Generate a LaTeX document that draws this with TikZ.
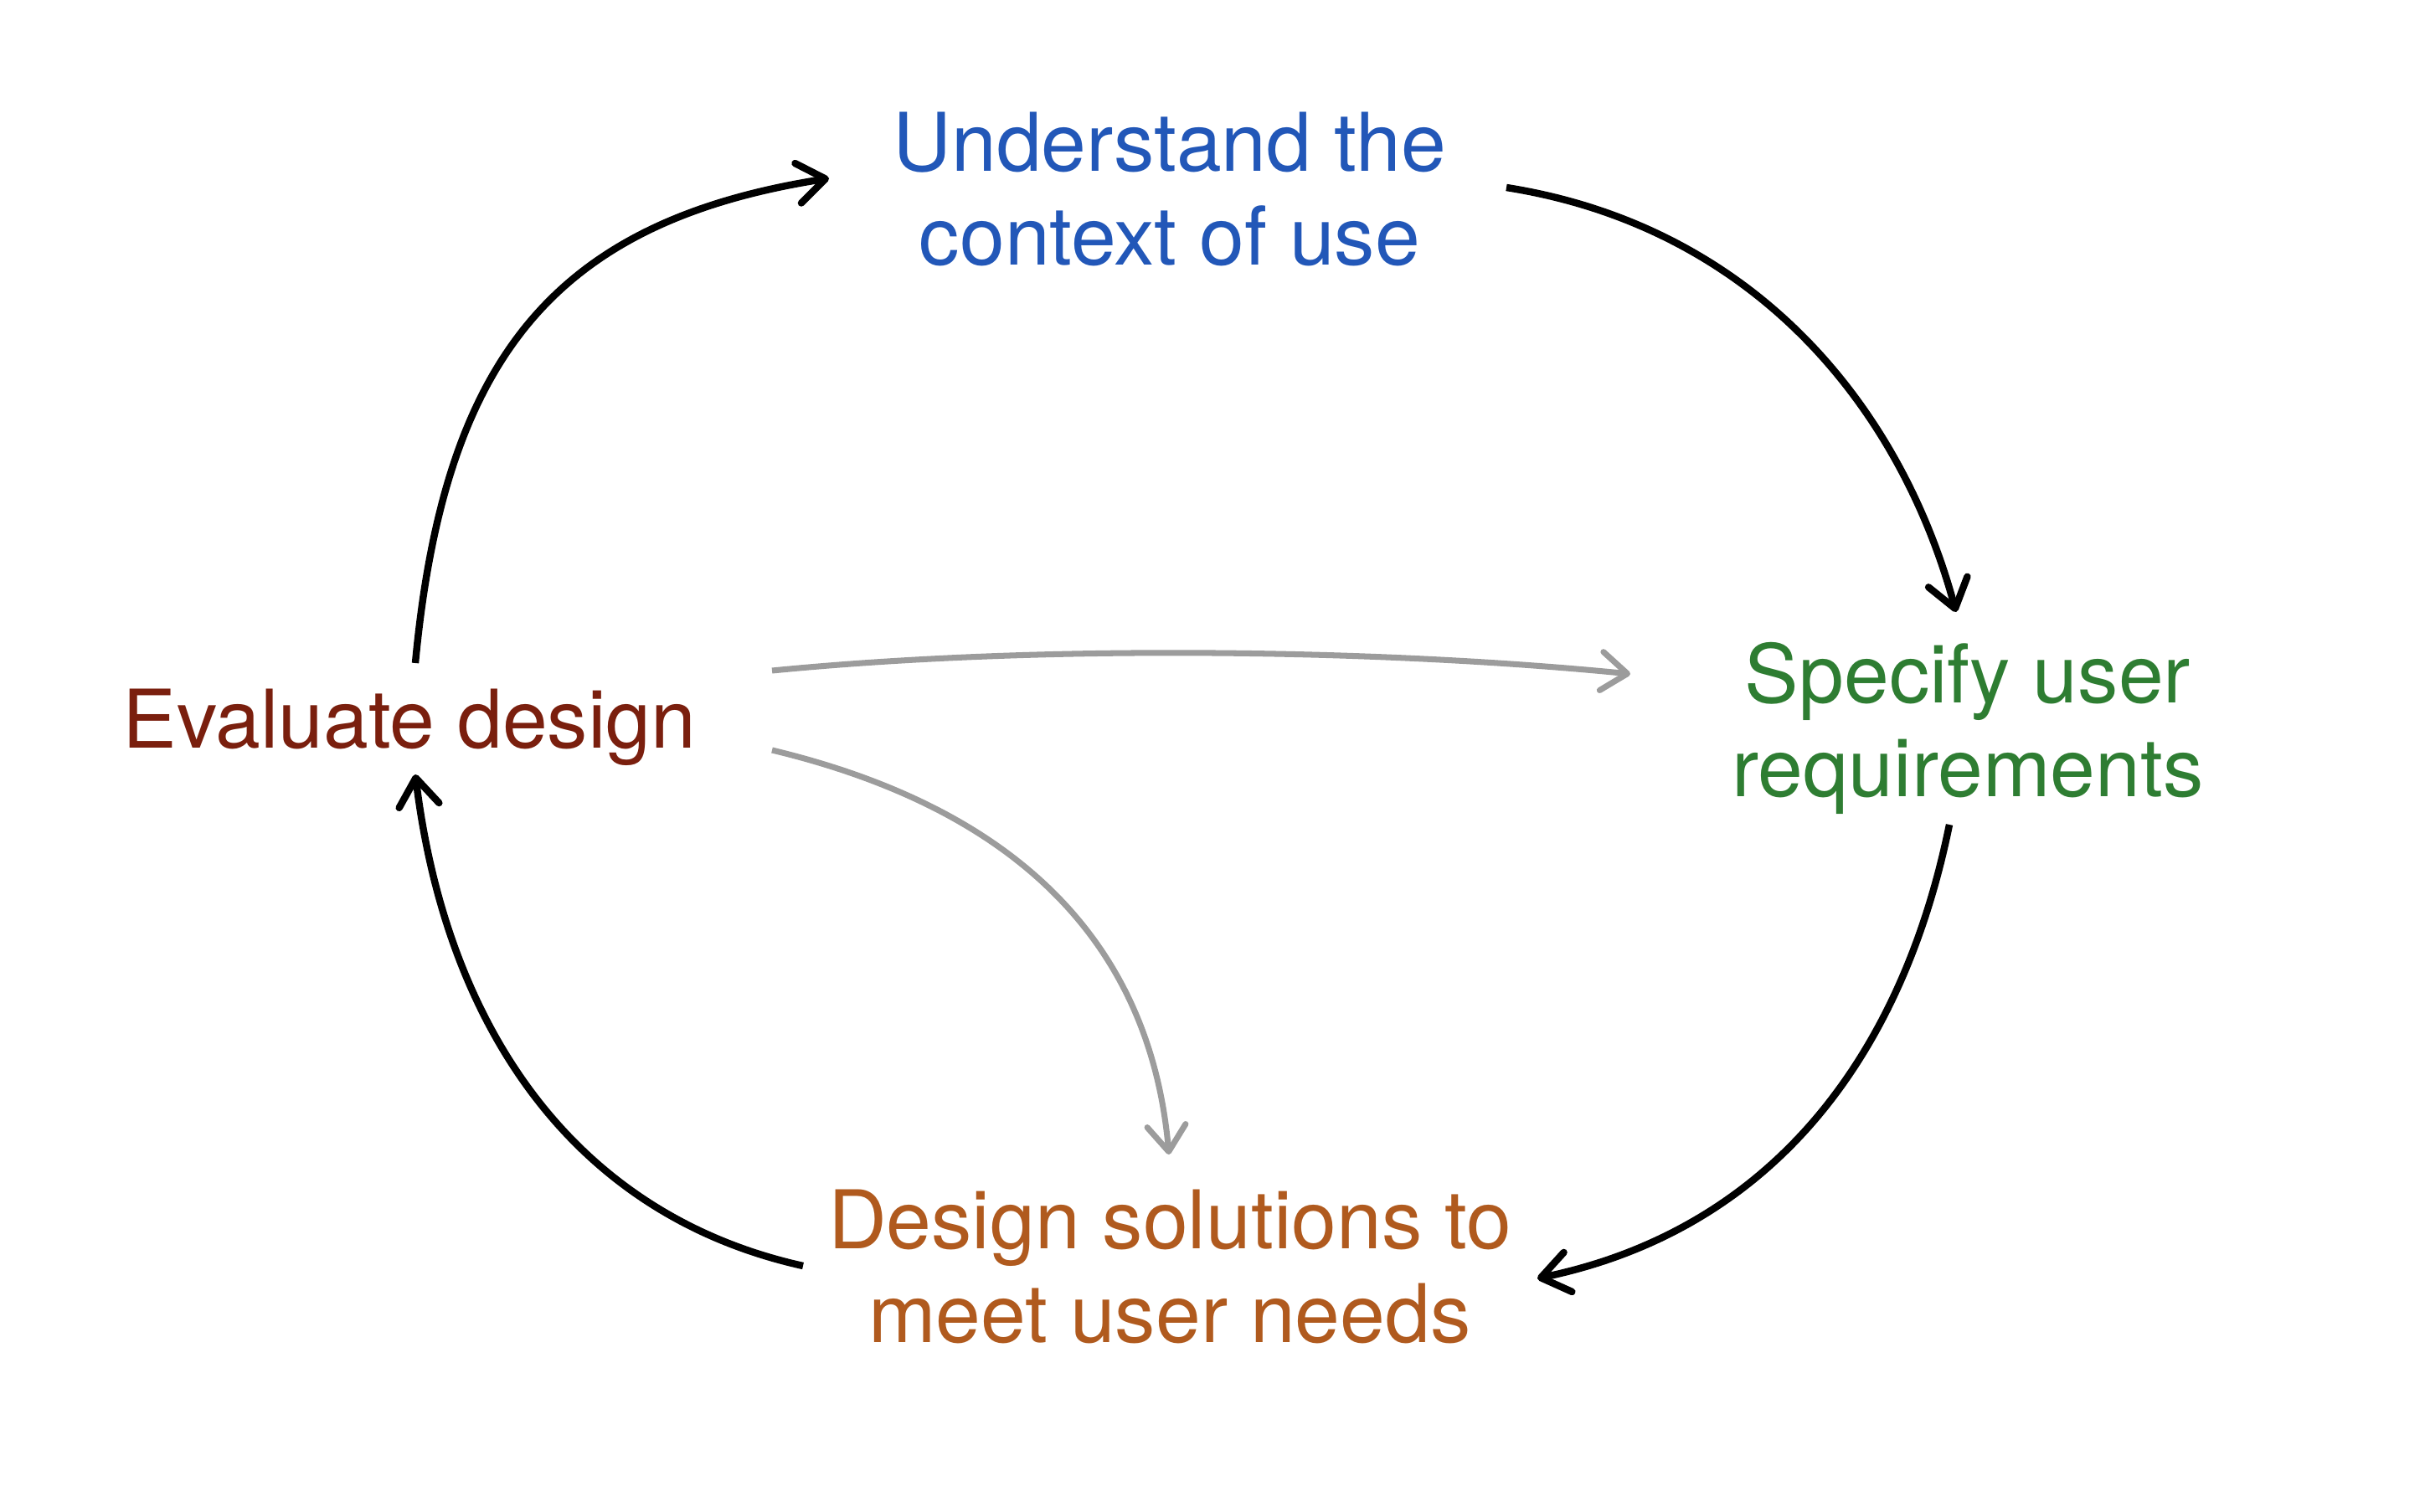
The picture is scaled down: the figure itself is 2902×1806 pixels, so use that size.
\documentclass[tikz,border=0pt]{standalone}
\usepackage{fontspec}
\setmainfont{TeX Gyre Heros}
\usetikzlibrary{arrows.meta}
\definecolor{cblue}{HTML}{2257B8}
\definecolor{cgreen}{HTML}{2E7D32}
\definecolor{cred}{HTML}{7A1F0E}
\definecolor{corange}{HTML}{B05A1E}
\definecolor{cgray}{HTML}{9C9C9C}
\begin{document}
\begin{tikzpicture}[x=0.01cm,y=-0.01cm,
  lbl/.style={align=center,inner sep=0pt,font=\fontsize{27.5}{32}\selectfont},
  blk/.style={line width=2.4pt,-{Straight Barb[length=3.3mm,width=4.8mm,line cap=round,line join=round]}},
  gry/.style={line width=2pt,cgray,-{Straight Barb[length=3.1mm,width=4.6mm,line cap=round,line join=round]}}]
\useasboundingbox (0,0) rectangle (2902,1806);
\fill[white] (0,0) rectangle (2902,1806);
\node[lbl,text=cblue] (und) at (1397,226) {Understand the\\context of use};
\node[lbl,text=cgreen] (spec) at (2350,870) {Specify user\\requirements};
\node[lbl,text=cred] (eval) at (489,869) {Evaluate design};
\node[lbl,text=corange] (des) at (1397,1513) {Design solutions to\\meet user needs};
\coordinate (e1) at (496,792);
\coordinate (u1) at (990,213);
\coordinate (u2) at (1799,224);
\coordinate (s1) at (2336,731);
\coordinate (s2) at (2328,985);
\coordinate (d1) at (1836,1527);
\coordinate (d2) at (959,1512);
\coordinate (e2) at (496,925);
\coordinate (e3) at (922,801);
\coordinate (s3) at (1947,805);
\coordinate (e4) at (922,896);
\coordinate (d3) at (1396,1379);
\draw[blk] (e1) .. controls (530,430) and (660,265) .. (u1);
\draw[blk] (u2) .. controls (2090,270) and (2268,480) .. (s1);
\draw[blk] (s2) .. controls (2270,1270) and (2110,1470) .. (d1);
\draw[blk] (d2) .. controls (680,1450) and (532,1220) .. (e2);
\draw[gry] (e3) .. controls (1259,768) and (1666,777) .. (s3);
\draw[gry] (e4) .. controls (1230,970) and (1375,1140) .. (d3);
\end{tikzpicture}
\end{document}
